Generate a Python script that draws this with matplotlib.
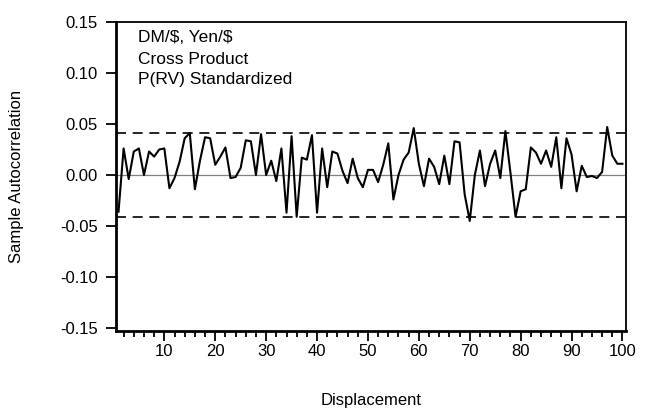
import matplotlib
matplotlib.use("Agg")
import matplotlib.pyplot as plt
from matplotlib.ticker import MultipleLocator, FormatStrFormatter
import numpy as np

plt.rcParams['font.family'] = ['Liberation Sans', 'DejaVu Sans']
plt.rcParams['font.size'] = 12

# sample autocorrelation, lags 1..100
lags = np.arange(1, 101)
acf = [
    -0.036, 0.026, -0.004, 0.023, 0.026, 0.000, 0.023, 0.018, 0.025, 0.026,
    -0.013, -0.003, 0.013, 0.036, 0.041, -0.014, 0.014, 0.037, 0.036, 0.010,
    0.018, 0.027, -0.003, -0.002, 0.007, 0.034, 0.033, 0.000, 0.040, 0.000,
    0.014, -0.006, 0.026, -0.037, 0.038, -0.041, 0.017, 0.015, 0.039, -0.037,
    0.026, -0.012, 0.023, 0.021, 0.004, -0.008, 0.016, -0.003, -0.012, 0.005,
    0.005, -0.007, 0.010, 0.031, -0.024, 0.000, 0.015, 0.022, 0.046, 0.011,
    -0.011, 0.016, 0.008, -0.009, 0.019, -0.009, 0.033, 0.032, -0.019, -0.045,
    0.000, 0.024, -0.011, 0.011, 0.024, -0.003, 0.043, 0.002, -0.041, -0.016,
    -0.014, 0.027, 0.022, 0.011, 0.024, 0.008, 0.037, -0.013, 0.036, 0.020,
    -0.016, 0.009, -0.002, -0.001, -0.003, 0.003, 0.047, 0.019, 0.011, 0.011,
]
band = 0.041
labels = [r"DM/\$, Yen/\$", "Cross Product", "P(RV) Standardized"]

fig = plt.figure(figsize=(6.49, 4.11), dpi=100)
ax = fig.add_axes([0.1787, 0.1946, 0.7859, 0.7519])

ax.axhline(0, color='#808080', lw=0.9)
ax.axhline(band, color='black', lw=1.2, dashes=(6, 4))
ax.axhline(-band, color='black', lw=1.2, dashes=(6, 4))
ax.plot(lags, acf, color='black', lw=1.5)

ax.set_xlim(0.5, 100.7)
ax.set_ylim(-0.153, 0.15)
ax.xaxis.set_major_locator(MultipleLocator(10))
ax.xaxis.set_minor_locator(MultipleLocator(2))
ax.yaxis.set_major_locator(MultipleLocator(0.05))
ax.yaxis.set_major_formatter(FormatStrFormatter('%.2f'))

ax.tick_params(axis='x', which='major', direction='out', length=7, width=1.3, pad=2)
ax.tick_params(axis='x', which='minor', direction='out', length=4, width=1.3)
ax.tick_params(axis='y', which='major', direction='out', length=7, width=1.3, pad=6)

for side in ['left', 'bottom']:
    ax.spines[side].set_linewidth(2.0)
for side in ['top', 'right']:
    ax.spines[side].set_linewidth(1.3)

ax.set_xlabel("Displacement")
ax.xaxis.set_label_coords(0.5, -0.2)
ax.set_ylabel("Sample Autocorrelation")
ax.yaxis.set_label_coords(-0.18, 0.5)

ys = [0.951, 0.878, 0.815]
for t, y in zip(labels, ys):
    ax.text(0.043, y, t, transform=ax.transAxes, va='center', ha='left',
            fontsize=12.5)

fig.savefig("out.png", dpi=100)
